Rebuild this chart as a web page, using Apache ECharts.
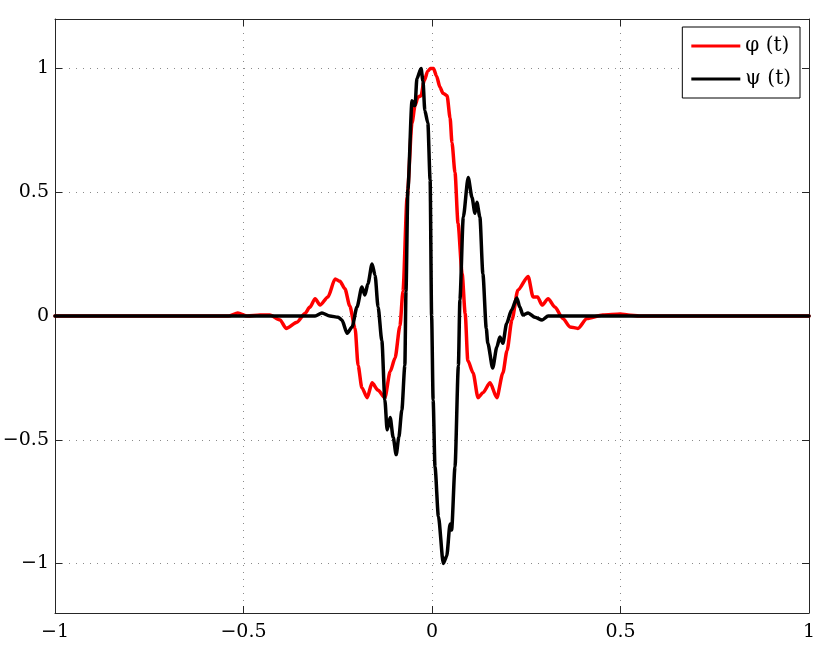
<!DOCTYPE html>
<html>
<head>
<meta charset="utf-8">
<script src="https://cdn.jsdelivr.net/npm/echarts@6/dist/echarts.min.js"></script>
<style>html,body{margin:0;padding:0;background:#fff}#c{width:822px;height:645px}</style>
</head>
<body>
<div id="c"></div>
<script>
// ---- data ----
const xTicks = [-1, -0.5, 0, 0.5, 1];
const yTicks = [-1, -0.5, 0, 0.5, 1];
const seriesNames = ['\u03c6 (t)', '\u03c8 (t)'];

const phiT = [-1, -0.6, -0.54, -0.515, -0.49, -0.456, -0.43, -0.403, -0.387, -0.358, -0.337, -0.324, -0.310, -0.297, -0.276, -0.257, -0.244, -0.231, -0.218, -0.204, -0.196, -0.186, -0.172, -0.159, -0.143, -0.125, -0.111, -0.098, -0.085, -0.077, -0.066, -0.053, -0.045, -0.037, -0.029, -0.021, -0.011, -0.004, 0.004, 0.012, 0.021, 0.029, 0.040, 0.048, 0.053, 0.061, 0.069, 0.080, 0.088, 0.095, 0.109, 0.122, 0.135, 0.154, 0.172, 0.188, 0.199, 0.212, 0.228, 0.255, 0.268, 0.280, 0.292, 0.308, 0.326, 0.347, 0.366, 0.387, 0.411, 0.453, 0.50, 0.52, 0.55, 1];
const phiV = [0, 0, 0, 0.012, 0, 0.004, 0.004, -0.016, -0.05, -0.025, 0.01, 0.036, 0.07, 0.044, 0.077, 0.15, 0.14, 0.11, 0.04, -0.05, -0.2, -0.29, -0.33, -0.27, -0.3, -0.33, -0.225, -0.17, -0.04, 0.1, 0.48, 0.78, 0.85, 0.885, 0.89, 0.95, 0.99, 1.0, 1.0, 0.97, 0.925, 0.9, 0.89, 0.8, 0.7, 0.58, 0.375, 0.17, 0.01, -0.18, -0.23, -0.33, -0.31, -0.27, -0.33, -0.23, -0.14, -0.016, 0.105, 0.16, 0.077, 0.077, 0.044, 0.07, 0.036, -0.01, -0.044, -0.05, -0.01, 0.004, 0.008, 0.004, 0, 0];

const psiT = [-1, -0.31, -0.292, -0.271, -0.249, -0.239, -0.225, -0.212, -0.199, -0.186, -0.178, -0.170, -0.159, -0.151, -0.143, -0.133, -0.125, -0.119, -0.111, -0.103, -0.095, -0.088, -0.080, -0.072, -0.069, -0.064, -0.053, -0.045, -0.040, -0.029, -0.024, -0.019, -0.011, -0.005, -0.001, 0.003, 0.008, 0.017, 0.030, 0.039, 0.048, 0.052, 0.061, 0.070, 0.074, 0.083, 0.096, 0.106, 0.114, 0.119, 0.127, 0.135, 0.144, 0.148, 0.161, 0.172, 0.180, 0.188, 0.198, 0.211, 0.225, 0.233, 0.241, 0.255, 0.273, 0.292, 0.308, 1];
const psiV = [0, 0, 0.012, 0, -0.005, -0.016, -0.07, -0.044, 0.036, 0.117, 0.085, 0.13, 0.21, 0.165, 0.036, -0.1, -0.34, -0.46, -0.41, -0.49, -0.56, -0.49, -0.38, -0.2, 0.1, 0.51, 0.87, 0.85, 0.96, 1.0, 0.95, 0.83, 0.78, 0.55, 0.0, -0.34, -0.61, -0.81, -1.0, -0.97, -0.84, -0.865, -0.61, -0.2, 0.065, 0.40, 0.56, 0.48, 0.415, 0.46, 0.40, 0.17, -0.05, -0.11, -0.21, -0.125, -0.085, -0.11, -0.03, 0.024, 0.073, 0.036, 0.004, 0.012, -0.005, -0.016, 0, 0];

// ---- chart ----
const zip = (a, b) => a.map((t, i) => [t, b[i]]);
const fmt = v => String(v).replace('-', '\u2212');
const FONT = 'DejaVu Serif';
const axisColor = '#262626';
const gridLine = { show: true, lineStyle: { color: '#8a8a8a', width: 1, type: [1, 6] } };

const chart = echarts.init(document.getElementById('c'), null, { renderer: 'canvas' });
chart.setOption({
  animation: false,
  backgroundColor: '#ffffff',
  grid: { left: 55, right: 13, top: 19, bottom: 32, containLabel: false, outerBoundsMode: 'none' },
  legend: {
    data: seriesNames,
    orient: 'vertical',
    right: 22,
    top: 27,
    padding: [9, 9, 9, 9],
    itemGap: 13,
    itemWidth: 49,
    itemHeight: 3,
    icon: 'rect',
    backgroundColor: '#ffffff',
    borderColor: '#000000',
    borderWidth: 1,
    borderRadius: 0,
    textStyle: { fontFamily: FONT, fontSize: 20, color: '#000' }
  },
  xAxis: [{
    type: 'value', min: -1, max: 1, interval: 0.5, position: 'bottom',
    axisLine: { show: true, onZero: false, lineStyle: { color: axisColor, width: 1 } },
    axisTick: { show: true, inside: true, length: 7, lineStyle: { color: axisColor } },
    axisLabel: { show: true, formatter: fmt, fontFamily: FONT, fontSize: 19, color: '#000', margin: 10 },
    splitLine: gridLine
  }, {
    type: 'value', min: -1, max: 1, interval: 0.5, position: 'top',
    axisLine: { show: true, onZero: false, lineStyle: { color: axisColor, width: 1 } },
    axisTick: { show: true, inside: true, length: 7, lineStyle: { color: axisColor } },
    axisLabel: { show: false }, splitLine: { show: false }
  }],
  yAxis: [{
    type: 'value', min: -1.2, max: 1.2, position: 'left',
    axisLine: { show: true, onZero: false, lineStyle: { color: axisColor, width: 1 } },
    axisTick: { show: true, inside: true, length: 7, customValues: yTicks, lineStyle: { color: axisColor } },
    axisLabel: { show: true, customValues: yTicks, formatter: fmt, fontFamily: FONT, fontSize: 19, color: '#000', margin: 6 },
    splitLine: gridLine
  }, {
    type: 'value', min: -1.2, max: 1.2, position: 'right',
    axisLine: { show: true, onZero: false, lineStyle: { color: axisColor, width: 1 } },
    axisTick: { show: true, inside: true, length: 7, customValues: yTicks, lineStyle: { color: axisColor } },
    axisLabel: { show: false }, splitLine: { show: false }
  }],
  series: [{
    name: seriesNames[0], type: 'line', xAxisIndex: 0, yAxisIndex: 0,
    data: zip(phiT, phiV), showSymbol: false, symbol: 'none',
    smooth: 0.25, smoothMonotone: 'x',
    itemStyle: { color: '#ff0000' },
    lineStyle: { color: '#ff0000', width: 3.5, join: 'round', cap: 'round' }
  }, {
    name: seriesNames[1], type: 'line', xAxisIndex: 0, yAxisIndex: 0,
    data: zip(psiT, psiV), showSymbol: false, symbol: 'none',
    smooth: 0.25, smoothMonotone: 'x',
    itemStyle: { color: '#000000' },
    lineStyle: { color: '#000000', width: 3.5, join: 'round', cap: 'round' }
  }]
});
</script>
</body>
</html>
